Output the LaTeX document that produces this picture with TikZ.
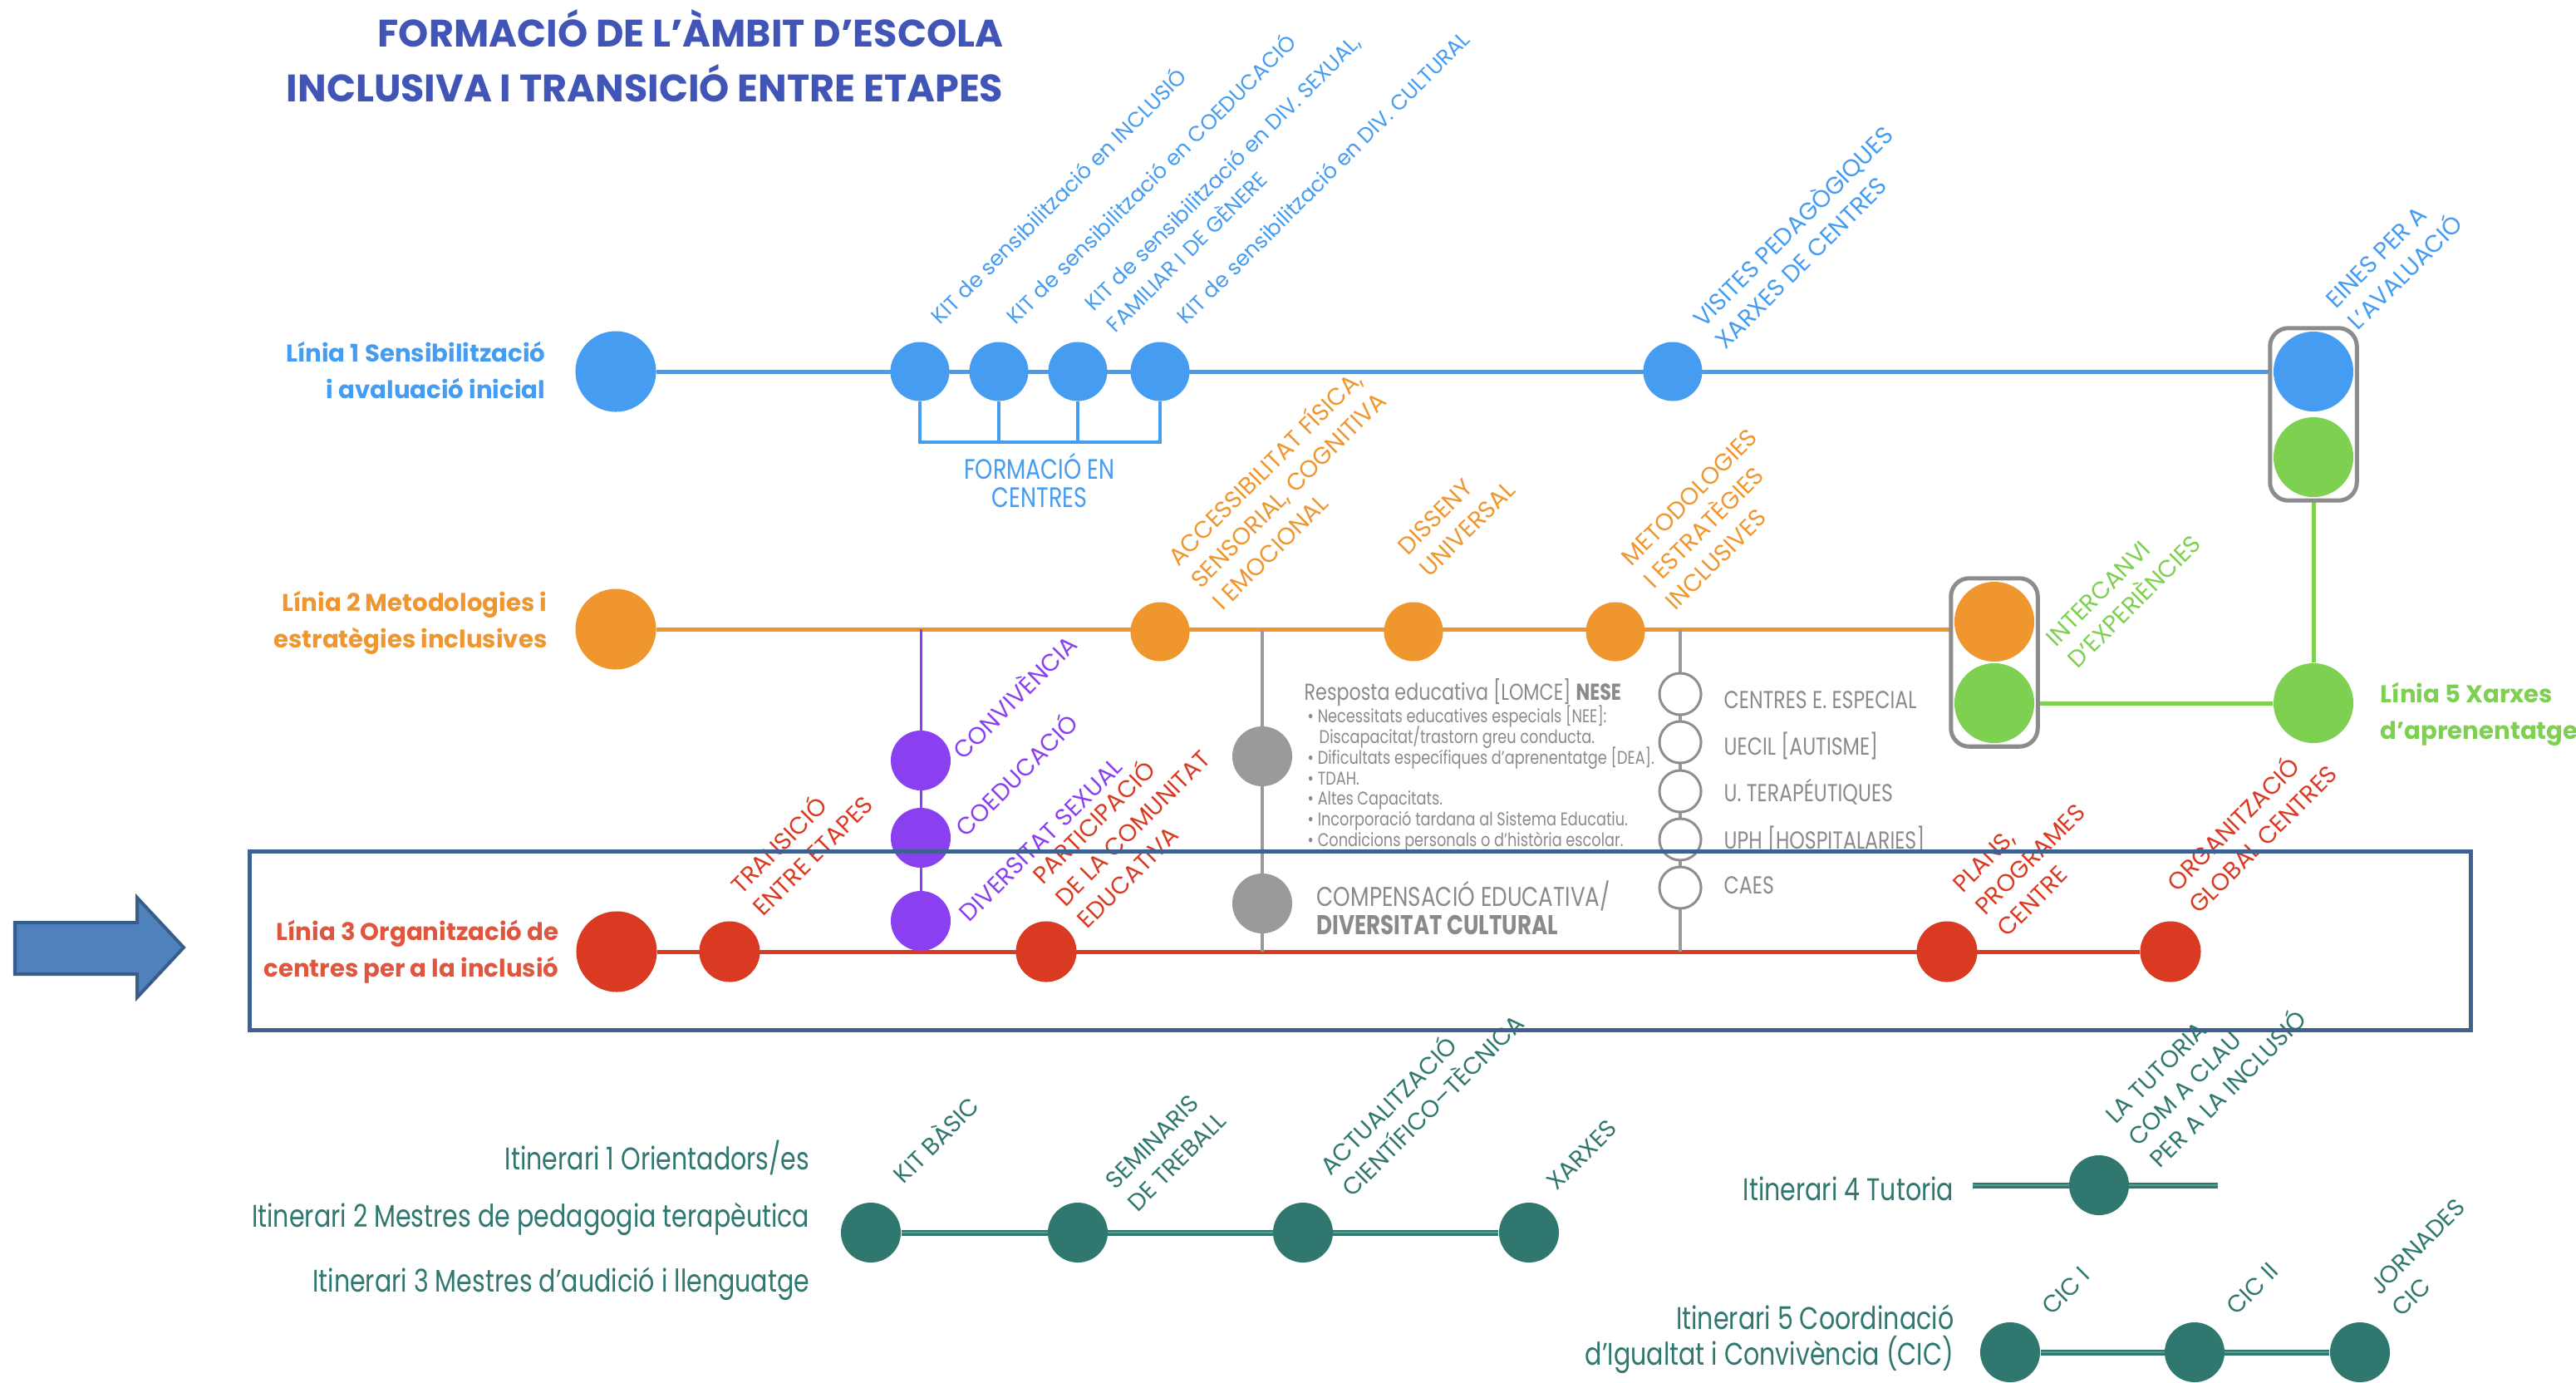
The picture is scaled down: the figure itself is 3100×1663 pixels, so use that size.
\documentclass[tikz,border=0pt]{standalone}
\usepackage{fontspec}
\setmainfont{Poppins}
\newfontfamily\fcond{Poppins}[FakeStretch=0.8]
\usetikzlibrary{fit,calc}
\definecolor{cblue}{HTML}{459CF0}
\definecolor{corange}{HTML}{F0962F}
\definecolor{cred}{HTML}{DA3A22}
\definecolor{clred}{HTML}{E0553E}
\definecolor{cpurple}{HTML}{8A40F0}
\definecolor{cgray}{HTML}{9A9A9A}
\definecolor{ctgray}{HTML}{8A8A8A}
\definecolor{cring}{HTML}{8E8E8E}
\definecolor{cgreen}{HTML}{7DD050}
\definecolor{cteal}{HTML}{2F776F}
\definecolor{clteal}{HTML}{5A9A92}
\definecolor{ctitle}{HTML}{4155B6}
\definecolor{cframe}{HTML}{3F6190}
\definecolor{cgbox}{HTML}{8C8C8C}
\definecolor{carrow}{HTML}{4F81BD}
\definecolor{carrowb}{HTML}{385D8A}
\newcommand\myrot{\fontsize{7.3}{10.5}\selectfont}
\newcommand\myrotc{\fontsize{8.2}{10.8}\selectfont}
\newcommand\mylab{\bfseries\fontsize{8.3}{12.5}\selectfont}
\pgfdeclarelayer{bglayer}
\pgfdeclarelayer{midlayer}
\pgfsetlayers{bglayer,midlayer,main}
\begin{document}
\begin{tikzpicture}[x=0.01cm,y=-0.01cm,
  dot/.style={circle,inner sep=0pt,draw=none,fill=#1},
  dbig/.style={minimum size=9.7mm},
  dmed/.style={minimum size=9.6mm},
  dsml/.style={minimum size=7.1mm},
  ring/.style={circle,inner sep=0pt,minimum size=5mm,draw=cring,line width=0.3mm,fill=white},
  rl/.style={rotate=45,anchor=south west,inner sep=0pt,align=left,text=#1,font=\myrotc},
  rk/.style={rotate=45,anchor=south west,inner sep=0pt,align=left,text=#1,font=\myrot},
  track/.style={line width=0.5mm,draw=#1},
  ttrack/.style={line width=0.7mm,draw=cteal,postaction={draw=clteal,line width=0.2mm}},
  lab/.style={inner sep=0pt,align=right,font=\mylab,text=#1},
  gtxt/.style={inner sep=0pt,anchor=west,text=ctgray,font=\fcond\fontsize{#1}{#1}\selectfont},
  itin/.style={inner sep=0pt,align=right,anchor=east,text=cteal,font=\fcond\fontsize{10.7}{12.2}\selectfont},
  title/.style={inner sep=0pt,anchor=east,text=ctitle,font=\bfseries\fontsize{13.1}{14}\selectfont},
  gbox/.style={rounded corners=2.2mm,draw=cgbox,line width=0.5mm,fill=white,inner sep=0.35mm}
]
\useasboundingbox (0,0) rectangle (3100,1663);

% title
\node[title] (t1) at (1208,34) {FORMACIÓ DE L’ÀMBIT D’ESCOLA};
\node[title] (t2) at (1208,100) {INCLUSIVA I TRANSICIÓ ENTRE ETAPES};

% line 1 nodes
\node[dot=cblue,dbig] (L1) at (741,447) {};
\node[dot=cblue,dsml] (B1) at (1107,447) {};
\node[dot=cblue,dsml] (B2) at (1202,447) {};
\node[dot=cblue,dsml] (B3) at (1297,447) {};
\node[dot=cblue,dsml] (B4) at (1396,447) {};
\node[dot=cblue,dsml] (BV) at (2013,447) {};
\node[dot=cblue,dmed] (BE) at (2784,447) {};
\node[dot=cgreen,dmed] (GE) at (2784,550) {};
\coordinate (fb) at (1251,532);

% line 2 nodes
\node[dot=corange,dbig] (L2) at (741,757) {};
\node[dot=corange,dsml] (O1) at (1396,760) {};
\node[dot=corange,dsml] (O2) at (1701,760) {};
\node[dot=corange,dsml] (O3) at (1944,760) {};
\node[dot=corange,dmed] (IO) at (2400,748) {};
\node[dot=cgreen,dmed] (IG) at (2400,846) {};
\node[dot=cgreen,dmed] (L5) at (2784,846) {};

% purple
\node[dot=cpurple,minimum size=7.2mm] (P1) at (1108,915) {};
\node[dot=cpurple,minimum size=7.2mm] (P2) at (1108,1008) {};
\node[dot=cpurple,minimum size=7.2mm] (P3) at (1108,1108) {};
% gray
\node[dot=cgray,minimum size=7.2mm] (G1) at (1519,910) {};
\node[dot=cgray,minimum size=7.2mm] (G2) at (1519,1087) {};
\node[ring] (C1) at (2022,835) {};
\node[ring] (C2) at (2022,893) {};
\node[ring] (C3) at (2022,952) {};
\node[ring] (C4) at (2022,1010) {};
\node[ring] (C5) at (2022,1068) {};

% line 3 nodes
\node[dot=cred,dbig] (L3) at (742,1145) {};
\node[dot=cred,minimum size=7.3mm] (R1) at (878,1145) {};
\node[dot=cred,minimum size=7.3mm] (R2) at (1259,1145) {};
\node[dot=cred,minimum size=7.3mm] (R3) at (2343,1145) {};
\node[dot=cred,minimum size=7.3mm] (R4) at (2612,1145) {};

% teal
\node[dot=cteal,minimum size=7.2mm] (T1) at (1048,1483) {};
\node[dot=cteal,minimum size=7.2mm] (T2) at (1297,1483) {};
\node[dot=cteal,minimum size=7.2mm] (T3) at (1568,1483) {};
\node[dot=cteal,minimum size=7.2mm] (T4) at (1840,1483) {};
\node[dot=cteal,minimum size=7.2mm] (T5) at (2526,1426) {};
\coordinate (i4a) at (2374,1426);
\coordinate (i4b) at (2669,1426);
\node[dot=cteal,minimum size=7.2mm] (T6) at (2419,1627) {};
\node[dot=cteal,minimum size=7.2mm] (T7) at (2641,1627) {};
\node[dot=cteal,minimum size=7.2mm] (T8) at (2840,1627) {};

% connectors
\begin{pgfonlayer}{bglayer}
\draw[track=cblue] (L1) -- (BE);
\draw[cblue,line width=0.4mm] (B1.south) |- (fb) -| (B4.south);
\draw[cblue,line width=0.4mm] (B2.south) -- (B2.south |- fb);
\draw[cblue,line width=0.4mm] (B3.south) -- (B3.south |- fb);
\draw[track=corange] (L2) -- (IO |- L2);
\draw[track=cgreen] (GE) -- (L5);
\draw[track=cgreen] (IG) -- (L5);
\draw[track=cred] (L3) -- (R4);
\draw[cpurple,line width=0.3mm] (P1 |- L2) -- (P3 |- L3);
\draw[cgray,line width=0.35mm] (G1 |- L2) -- (G2 |- L3);
\draw[cgray,line width=0.35mm] (C1 |- L2) -- (C5 |- L3);
\draw[ttrack] (T1) -- (T4);
\draw[ttrack] (i4a) -- (i4b);
\draw[ttrack] (T6) -- (T8);
\end{pgfonlayer}
\begin{pgfonlayer}{midlayer}
\node[gbox,fit=(BE)(GE)] (ebox) {};
\node[gbox,fit=(IO)(IG)] (ibox) {};
\end{pgfonlayer}

% left labels
\node[lab=cblue,anchor=east] (n1) at (657,445) {Línia 1 Sensibilització\\i avaluació inicial};
\node[lab=corange,anchor=east] (n2) at (659,749) {Línia 2 Metodologies i\\estratègies inclusives};
\node[lab=clred,anchor=east] (n3) at (673,1145) {Línia 3 Organització de\\centres per a la inclusió};
\node[lab=cgreen,anchor=west,align=left] (n5) at (2864,859) {Línia 5 Xarxes\\d’aprenentatge};
\node[inner sep=0pt,align=center,text=cblue,font=\fcond\fontsize{9.6}{9.8}\selectfont] (fc) at (1251,578) {FORMACIÓ EN\\CENTRES};

% rotated labels
\node[rk=cblue] (la) at (1132,393) {KIT de sensibilització en INCLUSIÓ};
\node[rk=cblue] (lb) at (1223,393) {KIT de sensibilització en COEDUCACIÓ};
\node[rk=cblue] (lc) at (1343,403) {KIT de sensibilització en DIV. SEXUAL,\\FAMILIAR I DE GÈNERE};
\node[rk=cblue] (ld) at (1428,393) {KIT de sensibilització en DIV. CULTURAL};
\node[rl=cblue] (le) at (2077,423) {VISITES PEDAGÒGIQUES\\XARXES DE CENTRES};
\node[rl=cblue] (lf) at (2838,400) {EINES PER A\\L’AVALUACIÓ};
\node[rl=corange] (lg) at (1472,737) {ACCESSIBILITAT FÍSICA,\\SENSORIAL, COGNITIVA\\I EMOCIONAL};
\node[rl=corange] (lh) at (1721,697) {DISSENY\\UNIVERSAL};
\node[rl=corange] (li) at (2017,737) {METODOLOGIES\\I ESTRATÈGIES\\INCLUSIVES};
\node[rl=cgreen] (lj) at (2501,807) {INTERCANVI\\D’EXPERIÈNCIES};
\node[rl=cpurple] (lk) at (1160,917) {CONVIVÈNCIA};
\node[rl=cpurple] (ll) at (1163,1010) {COEDUCACIÓ};
\node[rl=cpurple] (lm) at (1167,1112) {DIVERSITAT SEXUAL};
\node[rl=cred] (ln) at (919,1105) {TRANSICIÓ\\ENTRE ETAPES};
\node[rl=cred] (lo) at (1309,1120) {PARTICIPACIÓ\\DE LA COMUNITAT\\EDUCATIVA};
\node[rl=cred] (lp) at (2416,1130) {PLANS,\\PROGRAMES\\CENTRE};
\node[rl=cred] (lq) at (2647,1102) {ORGANITZACIÓ\\GLOBAL CENTRES};
\node[rl=cteal] (lr) at (1088,1427) {KIT BÀSIC};
\node[rl=cteal] (ls) at (1369,1460) {SEMINARIS\\DE TREBALL};
\node[rl=cteal] (lt) at (1628,1443) {ACTUALITZACIÓ\\CIENTÍFICO–TÈCNICA};
\node[rl=cteal] (lu) at (1874,1435) {XARXES};
\node[rl=cteal] (lv) at (2600,1408) {LA TUTORIA\\COM A CLAU\\PER A LA INCLUSIÓ};
\node[rl=cteal] (lw) at (2470,1585) {CIC I};
\node[rl=cteal] (lx) at (2692,1585) {CIC II};
\node[rl=cteal] (ly) at (2891,1587) {JORNADES\\CIC};

% gray texts
\node[gtxt=7.9] (rh) at (1569,833) {Resposta educativa [LOMCE] \textbf{NESE}};
\node[gtxt=6.3] (g1) at (1573,862) {\textbullet\ Necessitats educatives especials [NEE]:};
\node[gtxt=6.3] (g2) at (1587,887) {Discapacitat/trastorn greu conducta.};
\node[gtxt=6.3] (g3) at (1573,912) {\textbullet\ Dificultats específiques d’aprenentatge [DEA].};
\node[gtxt=6.3] (g4) at (1573,937) {\textbullet\ TDAH.};
\node[gtxt=6.3] (g5) at (1573,963) {\textbullet\ Altes Capacitats.};
\node[gtxt=6.3] (g6) at (1573,988) {\textbullet\ Incorporació tardana al Sistema Educatiu.};
\node[gtxt=6.3] (g7) at (1573,1013) {\textbullet\ Condicions personals o d’història escolar.};
\node[gtxt=9.3] (cp1) at (1584,1078) {COMPENSACIÓ EDUCATIVA/};
\node[gtxt=9.3] (cp2) at (1584,1113) {\textbf{DIVERSITAT CULTURAL}};
\node[gtxt=8.4] (k1) at (2074,842) {CENTRES E. ESPECIAL};
\node[gtxt=8.4] (k2) at (2074,897) {UECIL [AUTISME]};
\node[gtxt=8.4] (k3) at (2074,953) {U. TERAPÉUTIQUES};
\node[gtxt=8.4] (k4) at (2074,1010) {UPH [HOSPITALARIES]};
\node[gtxt=8.4] (k5) at (2074,1065) {CAES};

% itineraris
\node[itin] (it1) at (975,1393) {Itinerari 1 Orientadors/es};
\node[itin] (it2) at (975,1467) {Itinerari 2 Mestres de pedagogia terapèutica};
\node[itin] (it3) at (975,1545) {Itinerari 3 Mestres d’audició i llenguatge};
\node[itin] (it4) at (2352,1430) {Itinerari 4 Tutoria};
\node[itin] (it5) at (2352,1611) {Itinerari 5 Coordinació\\d’Igualtat i Convivència (CIC)};

% frame and arrow
\draw[cframe,line width=0.5mm] (300,1024) rectangle (2973,1239);
\draw[fill=carrow,draw=carrowb,line width=0.4mm] (18,1110) -- (165,1110) -- (165,1080) -- (221,1140) -- (165,1200) -- (165,1172) -- (18,1172) -- cycle;
\end{tikzpicture}
\end{document}
